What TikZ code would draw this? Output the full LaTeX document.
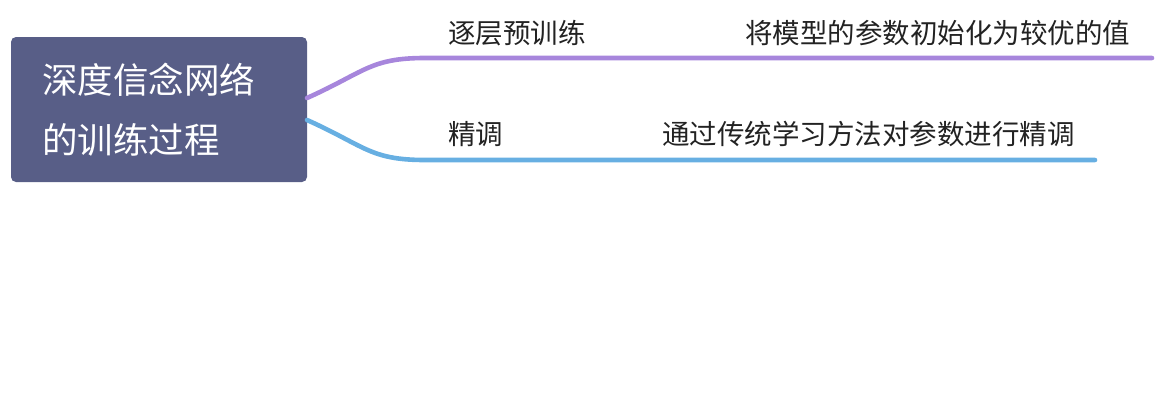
\documentclass[tikz,border=0pt]{standalone}
\usepackage{fontspec}
\setmainfont{Noto Sans CJK SC}
\definecolor{rootfill}{HTML}{585E87}
\definecolor{purpleline}{HTML}{A786DC}
\definecolor{blueline}{HTML}{67AFE2}
\definecolor{txt}{HTML}{222222}
\tikzset{
  rootbox/.style={fill=rootfill, rounded corners=5pt, minimum width=296pt, minimum height=145pt,
    text width=234pt, align=left, inner sep=0pt, text=white,
    font={\fontsize{35.5}{60}\selectfont}},
  lbl/.style={anchor=west, inner sep=0pt, text=txt, font={\fontsize{27.5}{30}\selectfont}},
  branch/.style={line width=4.6pt, line cap=round},
}
\begin{document}
\begin{tikzpicture}[x=1pt,y=-1pt]
\useasboundingbox (0,0) rectangle (1160,418);
\node[rootbox] (root) at (159,109.5) {深度信念网络\\的训练过程};
\coordinate (pa) at (307,98);
\coordinate (pb) at (425,58);
\coordinate (pc) at (1152,58);
\coordinate (ba) at (307,120);
\coordinate (bb) at (425,160);
\coordinate (bc) at (1095,160);
\draw[branch, purpleline] (pa) .. controls (365,72) and (370,58) .. (pb) -- (pc);
\draw[branch, blueline] (ba) .. controls (365,146) and (370,160) .. (bb) -- (bc);
\node[lbl] (l1) at (448,33) {逐层预训练};
\node[lbl] (l1b) at (745,33) {将模型的参数初始化为较优的值};
\node[lbl] (l2) at (448,134) {精调};
\node[lbl] (l2b) at (662,134) {通过传统学习方法对参数进行精调};
\end{tikzpicture}
\end{document}
